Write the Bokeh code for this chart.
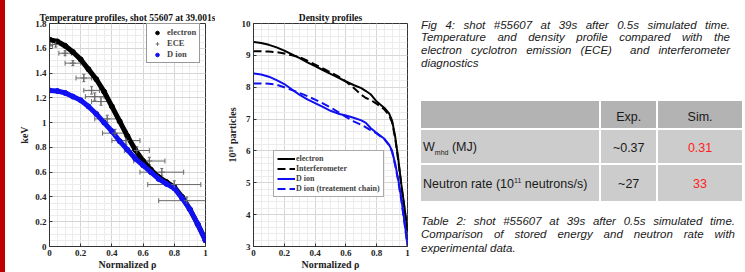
import numpy as np
from bokeh.plotting import figure
from bokeh.models import (ColumnDataSource, Whisker, TeeHead, Legend, LegendItem,
                          FixedTicker, Div, GlobalInlineStyleSheet)
from bokeh.layouts import row
from bokeh.embed import file_html
from bokeh.resources import INLINE

# ---------------- data: temperature profiles ----------------
temp_rho = [0.00, 0.05, 0.10, 0.15, 0.20, 0.25, 0.30, 0.35, 0.40, 0.45, 0.50,
            0.55, 0.60, 0.65, 0.70, 0.75, 0.80, 0.85, 0.90, 0.95, 1.00]
te_sim = [1.67, 1.655, 1.62, 1.57, 1.51, 1.43, 1.35, 1.25, 1.13, 1.01, 0.89,
          0.78, 0.69, 0.62, 0.56, 0.52, 0.48, 0.40, 0.30, 0.18, 0.05]
ti_sim = [1.26, 1.255, 1.24, 1.21, 1.18, 1.13, 1.07, 1.00, 0.93, 0.85, 0.78,
          0.71, 0.655, 0.60, 0.545, 0.505, 0.47, 0.39, 0.30, 0.18, 0.05]

ece_rho = [0.00, 0.04, 0.10, 0.15, 0.22, 0.27, 0.29, 0.33, 0.37, 0.42, 0.49,
           0.56, 0.64, 0.72, 0.80, 0.88]
ece_te = [1.62, 1.63, 1.56, 1.48, 1.36, 1.26, 1.21, 1.17, 1.03, 0.915, 0.855,
          0.775, 0.69, 0.60, 0.50, 0.37]
ece_rho_err = [0.02, 0.04, 0.04, 0.05, 0.05, 0.05, 0.06, 0.06, 0.08, 0.08, 0.09,
               0.08, 0.10, 0.14, 0.17, 0.18]
ece_te_err = [0.02, 0.02, 0.02, 0.02, 0.03, 0.03, 0.03, 0.03, 0.03, 0.03, 0.03,
              0.03, 0.03, 0.03, 0.03, 0.03]

# ---------------- data: density profiles ----------------
dens_rho = [0.00, 0.05, 0.10, 0.15, 0.20, 0.25, 0.30, 0.35, 0.40, 0.45, 0.50,
            0.55, 0.60, 0.65, 0.70, 0.73, 0.76, 0.80, 0.85, 0.88, 0.90, 0.92,
            0.94, 0.96, 0.98, 1.00]
ne_sim = [9.42, 9.39, 9.33, 9.25, 9.15, 9.03, 8.91, 8.78, 8.66, 8.54, 8.42,
          8.30, 8.18, 8.07, 7.97, 7.88, 7.78, 7.55, 7.35, 7.18, 6.95, 6.45,
          5.75, 4.95, 4.25, 3.50]
ne_interf = [9.13, 9.13, 9.12, 9.10, 9.06, 9.00, 8.94, 8.83, 8.71, 8.59, 8.47,
             8.34, 8.18, 7.98, 7.76, 7.66, 7.60, 7.48, 7.30, 7.12, 6.90, 6.40,
             5.70, 4.90, 4.20, 3.45]
nd_sim = [8.43, 8.40, 8.33, 8.22, 8.10, 7.93, 7.76, 7.62, 7.50, 7.38, 7.26,
          7.17, 7.11, 7.04, 6.96, 6.88, 6.72, 6.56, 6.38, 6.20, 6.00, 5.60,
          5.10, 4.50, 3.80, 3.05]
nd_chain = [8.12, 8.12, 8.11, 8.08, 8.00, 7.91, 7.82, 7.72, 7.61, 7.49, 7.37,
            7.22, 7.07, 6.93, 6.82, 6.74, 6.65, 6.55, 6.36, 6.18, 5.97, 5.55,
            5.05, 4.45, 3.75, 3.02]

# ---------------- ticks ----------------
rho_ticks = [0, 0.2, 0.4, 0.6, 0.8, 1]
rho_labels = ["0", "0.2", "0.4", "0.6", "0.8", "1"]
temp_ticks = [0, 0.2, 0.4, 0.6, 0.8, 1, 1.2, 1.4, 1.6, 1.8]
temp_labels = ["0", "0.2", "0.4", "0.6", "0.8", "1", "1.2", "1.4", "1.6", "1.8"]
dens_ticks = [3, 4, 5, 6, 7, 8, 9, 10]
dens_labels = ["3", "4", "5", "6", "7", "8", "9", "10"]

# ---------------- table ----------------
table_header = ["", "Exp.", "Sim."]
row_labels = ["W<sub style='font-size:7px'>mhd</sub> (MJ)",
              "Neutron rate (10<sup style='font-size:7px'>11</sup> neutrons/s)"]
exp_values = ["~0.37", "~27"]
sim_values = ["0.31", "33"]

SERIF = "Liberation Serif"
BLUE = "#1010f0"


def style(p, xt, xl, yt, yl, xminor, yminor):
    p.xaxis.ticker = FixedTicker(ticks=xt, minor_ticks=xminor)
    p.yaxis.ticker = FixedTicker(ticks=yt, minor_ticks=yminor)
    p.xaxis.major_label_overrides = dict(zip(xt, xl))
    p.yaxis.major_label_overrides = dict(zip(yt, yl))
    for ax in p.axis:
        ax.major_label_text_font = SERIF
        ax.major_label_text_font_style = "bold"
        ax.major_label_text_font_size = "9px"
        ax.major_label_text_color = "#222222"
        ax.major_tick_in = 3
        ax.major_tick_out = 0
        ax.minor_tick_in = 0
        ax.minor_tick_out = 0
        ax.axis_line_color = "#333333"
        ax.major_tick_line_color = "#333333"
        ax.axis_label_text_font = SERIF
        ax.axis_label_text_font_style = "bold"
        ax.axis_label_text_font_size = "10px"
        ax.axis_label_text_color = "#222222"
        ax.major_label_standoff = 3
    p.xaxis.axis_label_standoff = 0
    p.yaxis.axis_label_standoff = 2
    for g in (p.xgrid, p.ygrid):
        g.grid_line_color = "#d6d6d6"
        g.minor_grid_line_color = "#ececec"
    p.outline_line_color = "#333333"
    p.title.text_font = SERIF
    p.title.text_font_style = "bold"
    p.title.text_font_size = "9.5px"
    p.title.align = "center"
    p.title.standoff = 2
    p.title.text_color = "#111111"


# ---------------- figure 1: temperature ----------------
p1 = figure(width=210, height=272, x_range=(0, 1), y_range=(0, 1.8),
            output_backend="svg", toolbar_location=None,
            title="Temperature profiles, shot 55607 at 39.001s",
            min_border_left=44, min_border_right=10, min_border_top=20,
            min_border_bottom=26)
style(p1, rho_ticks, rho_labels, temp_ticks, temp_labels,
      list(np.round(np.arange(0, 1.0001, 0.05), 3)),
      list(np.round(np.arange(0, 1.8001, 0.05), 3)))
p1.xaxis.axis_label = "Normalized ρ"
p1.yaxis.axis_label = "keV"

p1.line(temp_rho, te_sim, line_width=5, color="black")
el_dots = p1.scatter(temp_rho, te_sim, size=5, color="black")
p1.line(temp_rho, ti_sim, line_width=5, color=BLUE)
ion_dots = p1.scatter(temp_rho, ti_sim, size=5, color=BLUE)

ex = np.array(ece_rho); ey = np.array(ece_te)
exe = np.array(ece_rho_err); eye = np.array(ece_te_err)
src_ece = ColumnDataSource(dict(x=ex, y=ey, xl=np.clip(ex - exe, 0, 1), xu=ex + exe,
                                yl=ey - eye, yu=ey + eye))
ECE_C = "#6a6a6a"
wh = Whisker(source=src_ece, base="y", lower="xl", upper="xu", dimension="width",
             line_color=ECE_C, line_width=1,
             lower_head=TeeHead(size=5, line_color=ECE_C, line_width=1),
             upper_head=TeeHead(size=5, line_color=ECE_C, line_width=1))
wv = Whisker(source=src_ece, base="x", lower="yl", upper="yu", dimension="height",
             line_color=ECE_C, line_width=1,
             lower_head=TeeHead(size=3, line_color=ECE_C, line_width=1),
             upper_head=TeeHead(size=3, line_color=ECE_C, line_width=1))
p1.add_layout(wh)
p1.add_layout(wv)
ece_r = p1.scatter("x", "y", source=src_ece, marker="cross", size=6,
                   line_color=ECE_C, line_width=1)

leg1 = Legend(items=[LegendItem(label="electron", renderers=[el_dots]),
                     LegendItem(label="ECE", renderers=[ece_r]),
                     LegendItem(label="D ion", renderers=[ion_dots])],
              location=(97, 183), border_line_color="#333333", border_line_width=1,
              label_text_font=SERIF, label_text_font_style="bold",
              label_text_font_size="8.5px", glyph_width=14, glyph_height=9,
              label_height=9, spacing=1, padding=3, margin=0, label_standoff=3,
              background_fill_alpha=1)
p1.add_layout(leg1)

# ---------------- figure 2: density ----------------
p2 = figure(width=200, height=272, x_range=(0, 1), y_range=(3, 10),
            output_backend="svg", toolbar_location=None,
            title="Density profiles",
            min_border_left=38, min_border_right=8, min_border_top=23,
            min_border_bottom=26)
style(p2, rho_ticks, rho_labels, dens_ticks, dens_labels,
      list(np.round(np.arange(0, 1.0001, 0.05), 3)),
      list(np.round(np.arange(3, 10.0001, 0.2), 3)))
p2.xaxis.axis_label = "Normalized ρ"
p2.yaxis.axis_label = "10¹⁹ particles"
p2.yaxis.axis_label_standoff = 1

r_ne = p2.line(dens_rho, ne_sim, line_width=2, color="black")
r_nei = p2.line(dens_rho, ne_interf, line_width=2, color="black", line_dash="8 4")
r_nd = p2.line(dens_rho, nd_sim, line_width=2, color=BLUE)
r_ndc = p2.line(dens_rho, nd_chain, line_width=2, color=BLUE, line_dash="8 4")

leg2 = Legend(items=[LegendItem(label="electron", renderers=[r_ne]),
                     LegendItem(label="Interferometer", renderers=[r_nei]),
                     LegendItem(label="D ion", renderers=[r_nd]),
                     LegendItem(label="D ion (treatement chain)", renderers=[r_ndc])],
              location=(20, 49), border_line_color="#555555", border_line_width=1,
              label_text_font=SERIF, label_text_font_style="bold",
              label_text_font_size="8px", glyph_width=18, glyph_height=9,
              label_height=9, spacing=1, padding=3, margin=0, label_standoff=1,
              background_fill_alpha=1)
p2.add_layout(leg2)

# ---------------- text panel ----------------
cap1 = ["Fig 4: shot #55607 at 39s after 0.5s simulated time.",
        "Temperature and density profile compared with the",
        "electron cyclotron emission (ECE)&nbsp; and interferometer",
        "diagnostics"]
cap2 = ["Table 2: shot #55607 at 39s after 0.5s simulated time.",
        "Comparison of stored energy and neutron rate with",
        "experimental data."]


def caption_html(lines, top, width, lh):
    out = []
    for i, ln in enumerate(lines):
        last = i == len(lines) - 1
        al = "left" if last else "justify"
        out.append(f"<div style='position:absolute;left:6px;top:{top + i * lh:.1f}px;width:{width}px;"
                   f"height:{lh}px;line-height:{lh}px;white-space:nowrap;text-align:{al};"
                   f"text-align-last:{al};'>{ln}</div>")
    return "".join(out)


cell = "border:2px solid white;padding:0 3px;white-space:nowrap;"
html = ["<div style=\"position:relative;width:330px;height:272px;font-family:'Liberation Sans',Arial,sans-serif;color:#1a1a1a;\">"]
html.append("<div style='font-style:italic;font-size:11.5px;'>")
html.append(caption_html(cap1, 18.6, 309, 12.7))
html.append(caption_html(cap2, 215.0, 314, 13.3))
html.append("</div>")
html.append("<table style='position:absolute;left:4px;top:99px;border-collapse:collapse;font-size:12.5px;table-layout:fixed;width:325px;'>")
html.append("<tr style='background:#b3b3b3;height:29px;'>"
            f"<td style='{cell}width:168px;'>{table_header[0]}</td>"
            f"<td style='{cell}width:53px;text-align:center;vertical-align:bottom;padding-bottom:1px;'>{table_header[1]}</td>"
            f"<td style='{cell}width:80px;text-align:center;vertical-align:bottom;padding-bottom:1px;'>{table_header[2]}</td></tr>")
heights = [35, 38]
for lab, ev, sv, h in zip(row_labels, exp_values, sim_values, heights):
    html.append(f"<tr style='background:#cccccc;height:{h}px;'>"
                f"<td style='{cell}padding-left:2px;padding-top:4px;overflow:visible;'>{lab}</td>"
                f"<td style='{cell}text-align:center;padding-top:4px;'>{ev}</td>"
                f"<td style='{cell}text-align:center;padding-top:4px;color:#ff2020;'>{sv}</td></tr>")
html.append("</table></div>")

text_div = Div(text="".join(html), width=330, height=272, margin=0)
bar = Div(text="", width=5, height=272, margin=0, styles={"background-color": "#c00000"})

layout = row(bar, p1, p2, text_div,
             stylesheets=[GlobalInlineStyleSheet(css="body { margin: 0; overflow: hidden; }")])

open("out.html", "w").write(file_html(layout, INLINE))
